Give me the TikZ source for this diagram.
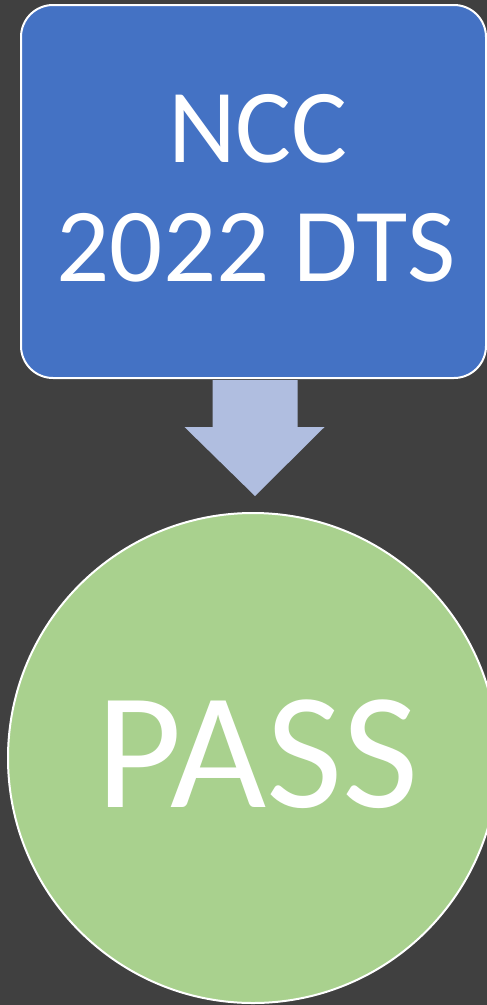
\documentclass[tikz,border=0pt]{standalone}
\usepackage{fontspec}
\setmainfont{Carlito}
\usetikzlibrary{calc}
\definecolor{bgc}{HTML}{404040}
\definecolor{boxblue}{HTML}{4472C4}
\definecolor{arrowblue}{HTML}{B0BEE0}
\definecolor{passgreen}{HTML}{A9D18E}
\tikzset{
  boxstyle/.style={draw=white, line width=2pt, fill=boxblue, rounded corners=32pt,
    minimum width=465pt, minimum height=373pt, inner sep=0pt},
  passstyle/.style={draw=white, line width=2pt, fill=passgreen, circle,
    minimum size=490pt, inner sep=0pt},
  bigtext/.style={text=white, anchor=base, inner sep=0pt, font=\fontsize{105pt}{119pt}\selectfont},
  hugetext/.style={text=white, anchor=base, inner sep=0pt, font=\fontsize{166pt}{190pt}\selectfont},
  arrowstyle/.style={fill=arrowblue, draw=none}
}
\begin{document}
\begin{tikzpicture}[x=1pt,y=-1pt]
\useasboundingbox (0,0) rectangle (487,1005);
\fill[bgc] (0,0) rectangle (487,1005);
\node[boxstyle] (box) at (253.5,191.5) {};
\node[passstyle] (pass) at (253,758) {};
\node[bigtext] (t1) at (258,162) {NCC};
\node[bigtext] (t2) at (256,281) {2022 DTS};
\node[hugetext] (t3) at (258,807) {PASS};
\fill[arrowstyle]
  ($(box.south)+(-41,1)$) -- ($(box.south)+(-41,48)$) -- ($(box.south)+(-69,48)$)
  -- ($(pass.north)+(2,-16)$) -- ($(box.south)+(71,48)$) -- ($(box.south)+(44,48)$)
  -- ($(box.south)+(44,1)$) -- cycle;
\end{tikzpicture}
\end{document}
